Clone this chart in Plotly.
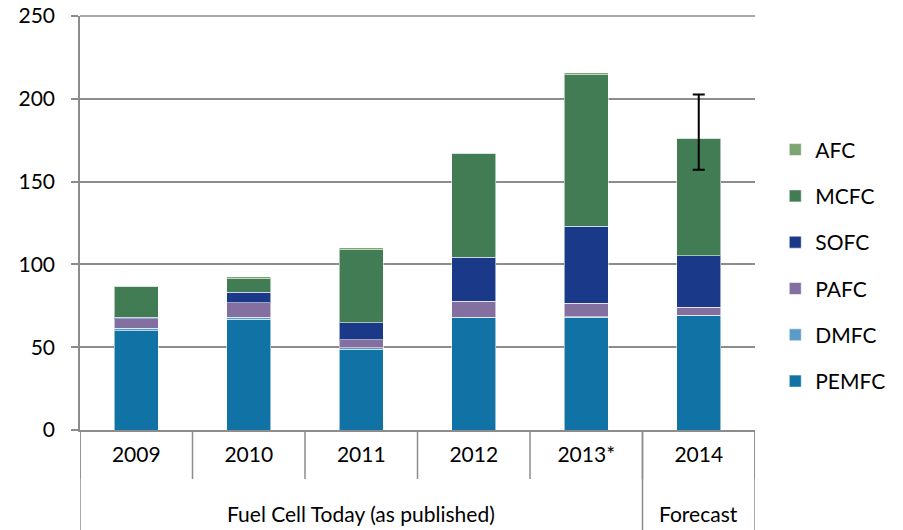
import plotly.graph_objects as go

years = ["2009", "2010", "2011", "2012", "2013*", "2014"]
group_labels = ["Fuel Cell Today (as published)", "Forecast"]
group_members = [[0, 1, 2, 3, 4], [5]]

pemfc = [60.0, 67.0, 48.9, 67.8, 68.0, 69.0]
dmfc = [1.4, 1.2, 0.8, 0.3, 0.3, 0.2]
pafc = [5.8, 8.5, 4.8, 9.6, 8.2, 5.0]
sofc = [0.8, 6.6, 10.3, 26.6, 46.5, 31.0]
mcfc = [18.8, 8.1, 44.1, 62.7, 91.6, 71.0]
afc = [0.2, 1.2, 1.2, 0.3, 1.2, 0.0]

forecast_year = "2014"
err_plus = 26.4
err_minus = 19.1

series = [
    ("PEMFC", pemfc, "#1172A6"),
    ("DMFC", dmfc, "#5B9BC8"),
    ("PAFC", pafc, "#8470A0"),
    ("SOFC", sofc, "#1A3A89"),
    ("MCFC", mcfc, "#427C55"),
    ("AFC", afc, "#7DA56F"),
]

GRID = "#8c8c8c"
FONT = "Lato, 'Open Sans', sans-serif"
FS = 21

fig = go.Figure()
n = len(series)
for i, (name, vals, col) in enumerate(series):
    fig.add_trace(go.Bar(
        x=years, y=vals, name=name, legendgroup=name, legendrank=n - i,
        marker=dict(color=col, line=dict(color="rgba(255,255,255,0.55)", width=1)),
    ))

# error bar on the forecast total
fi = years.index(forecast_year)
total = sum(s[1][fi] for s in series)
fig.add_trace(go.Scatter(
    x=[forecast_year], y=[total], mode="markers",
    marker=dict(opacity=0, size=1), showlegend=False, hoverinfo="skip",
    error_y=dict(type="data", symmetric=False, array=[err_plus],
                 arrayminus=[err_minus], color="black", thickness=2, width=6),
))

H_PLOT = 414.0
shapes = []
# inner category boundaries
for k in range(len(years) + 1):
    shapes.append(dict(type="line", xref="x", yref="paper",
                       x0=k - 0.5, x1=k - 0.5, y0=0, y1=-49 / H_PLOT,
                       line=dict(color=GRID, width=1.5)))
# group boundaries extend to bottom
bounds = [group_members[0][0] - 0.5] + [g[-1] + 0.5 for g in group_members]
for b in bounds:
    shapes.append(dict(type="line", xref="x", yref="paper",
                       x0=b, x1=b, y0=0, y1=-100 / H_PLOT,
                       line=dict(color=GRID, width=1.5)))
# top gridline at the range end
shapes.append(dict(type="line", xref="paper", yref="paper", x0=0, x1=1,
                   y0=1, y1=1, line=dict(color=GRID, width=1.5)))

annotations = []
for lab, mem in zip(group_labels, group_members):
    annotations.append(dict(text=lab, xref="x", yref="paper",
                            x=(mem[0] + mem[-1]) / 2, y=-83 / H_PLOT,
                            showarrow=False, xanchor="center", yanchor="middle",
                            font=dict(size=FS, family=FONT, color="black")))

fig.update_layout(
    width=903, height=530,
    margin=dict(l=80, r=148, t=16, b=100, autoexpand=False),
    barmode="stack", bargap=0.61,
    plot_bgcolor="white", paper_bgcolor="white",
    font=dict(family=FONT, size=FS, color="black"),
    showlegend=True,
    legend=dict(traceorder="grouped", tracegroupgap=16,
                x=1.03, xanchor="left", y=0.726, yanchor="top",
                font=dict(size=FS), itemwidth=30),
    shapes=shapes, annotations=annotations,
)
fig.update_yaxes(range=[0, 250], dtick=50, showgrid=True, gridcolor=GRID,
                 gridwidth=1.5, showline=True, linecolor=GRID, linewidth=1.5,
                 ticks="outside", ticklen=7, tickcolor=GRID, tickwidth=1.5,
                 ticklabelstandoff=12, zeroline=False, automargin=False,
                 ticklabeloverflow="allow", tickfont=dict(size=FS))
fig.update_xaxes(type="category", range=[-0.5, len(years) - 0.5],
                 showline=True, linecolor=GRID, linewidth=1.5, ticks="",
                 ticklabelstandoff=5, automargin=False, tickfont=dict(size=FS))

fig.write_html("out.html",
               config={"displayModeBar": False},
               post_script="document.body.style.margin='0';")
